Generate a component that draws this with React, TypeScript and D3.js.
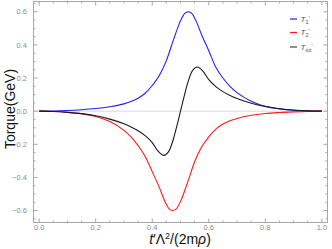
import * as d3 from "d3";

// T1' (blue)
const t1X = [0, 0.05, 0.1, 0.15, 0.2, 0.25, 0.3, 0.325, 0.35, 0.375, 0.4, 0.425, 0.45, 0.475, 0.5, 0.515, 0.528, 0.54, 0.555, 0.575, 0.6, 0.625, 0.65, 0.675, 0.7, 0.75, 0.8, 0.85, 0.9, 0.95, 1];
const t1Y = [0, 0.001, 0.004, 0.009, 0.016, 0.027, 0.044, 0.058, 0.078, 0.108, 0.155, 0.215, 0.305, 0.43, 0.545, 0.59, 0.6, 0.59, 0.545, 0.46, 0.365, 0.265, 0.2, 0.15, 0.112, 0.06, 0.029, 0.014, 0.006, 0.002, 0];

// T2' (red)
const t2X = [0, 0.05, 0.1, 0.15, 0.2, 0.25, 0.3, 0.325, 0.35, 0.375, 0.4, 0.425, 0.445, 0.46, 0.472, 0.485, 0.5, 0.525, 0.55, 0.575, 0.6, 0.625, 0.65, 0.675, 0.7, 0.75, 0.8, 0.85, 0.9, 0.95, 1];
const t2Y = [0, -0.002, -0.007, -0.016, -0.032, -0.063, -0.116, -0.155, -0.208, -0.273, -0.365, -0.46, -0.545, -0.59, -0.6, -0.59, -0.545, -0.43, -0.305, -0.215, -0.155, -0.108, -0.078, -0.058, -0.044, -0.025, -0.014, -0.008, -0.004, -0.001, 0];

// Ttot' (black)
const totX = [0, 0.05, 0.1, 0.15, 0.2, 0.25, 0.3, 0.325, 0.35, 0.375, 0.4, 0.42, 0.44, 0.46, 0.475, 0.49, 0.5, 0.51, 0.525, 0.54, 0.56, 0.58, 0.6, 0.625, 0.65, 0.675, 0.7, 0.75, 0.8, 0.85, 0.9, 0.95, 1];
const totY = [0, -0.002, -0.007, -0.015, -0.028, -0.048, -0.076, -0.095, -0.118, -0.148, -0.19, -0.24, -0.267, -0.238, -0.168, -0.07, 0, 0.07, 0.168, 0.238, 0.267, 0.24, 0.19, 0.148, 0.118, 0.095, 0.076, 0.048, 0.028, 0.015, 0.007, 0.002, 0];

const xMajor = [0, 0.2, 0.4, 0.6, 0.8, 1.0];
const yMajor = [-0.6, -0.4, -0.2, 0, 0.2, 0.4, 0.6];

const series = [
  { key: "1", xs: t1X, ys: t1Y, color: "#2020ff" },
  { key: "2", xs: t2X, ys: t2Y, color: "#ff1a1a" },
  { key: "tot", xs: totX, ys: totY, color: "#1a1a1a" },
];

const W = 332;
const H = 249;
const L = 33.5, R = 327.5, T = 1.5, B = 222.5;

export default function App() {
  const x = d3.scaleLinear().domain([-0.02, 1.02]).range([L, R]);
  const y = d3.scaleLinear().domain([-0.672, 0.662]).range([B, T]);

  const line = d3
    .line<[number, number]>()
    .x((d) => x(d[0]))
    .y((d) => y(d[1]))
    .curve(d3.curveMonotoneX);

  const xMinor = d3.range(0.05, 1.0, 0.05).filter((v) => !xMajor.some((m) => Math.abs(m - v) < 1e-6));
  const yMinor = d3.range(-0.65, 0.66, 0.05).filter((v) => !yMajor.some((m) => Math.abs(m - v) < 1e-6));

  const fmt = (v: number) => (v < 0 ? "\u2212" : "") + Math.abs(v).toFixed(1);
  const tickCol = "#a8a8a8";
  const font = "'Liberation Sans', Arial, sans-serif";

  return (
    <svg
      width={W}
      height={H}
      style={{ position: "absolute", left: 0, top: 0, background: "#fff", display: "block" }}
      fontFamily={font}
    >
      <defs>
        <clipPath id="plot">
          <rect x={L} y={T} width={R - L} height={B - T} />
        </clipPath>
      </defs>

      {/* zero axis */}
      <line x1={L} x2={R} y1={y(0)} y2={y(0)} stroke="#d9d9d9" strokeWidth={1} />

      {/* curves */}
      <g clipPath="url(#plot)">
        {series.map((s) => (
          <path
            key={s.key}
            d={line(s.xs.map((v, i) => [v, s.ys[i]] as [number, number])) ?? ""}
            fill="none"
            stroke={s.color}
            strokeWidth={1.1}
          />
        ))}
      </g>

      {/* frame */}
      <rect x={L} y={T} width={R - L} height={B - T} fill="none" stroke={tickCol} strokeWidth={1} />

      {/* x ticks bottom + top */}
      {xMajor.map((v) => (
        <g key={"xM" + v}>
          <line x1={x(v)} x2={x(v)} y1={B} y2={B - 4} stroke={tickCol} />
          <line x1={x(v)} x2={x(v)} y1={T} y2={T + 4} stroke={tickCol} />
          <text x={x(v)} y={229.5} fontSize={7.5} fill="#8c8c8c" textAnchor="middle">
            {fmt(v)}
          </text>
        </g>
      ))}
      {xMinor.map((v) => (
        <g key={"xm" + v}>
          <line x1={x(v)} x2={x(v)} y1={B} y2={B - 2} stroke={tickCol} />
          <line x1={x(v)} x2={x(v)} y1={T} y2={T + 2} stroke={tickCol} />
        </g>
      ))}

      {/* y ticks left + right */}
      {yMajor.map((v) => (
        <g key={"yM" + v}>
          <line x1={L} x2={L + 4} y1={y(v)} y2={y(v)} stroke={tickCol} />
          <line x1={R} x2={R - 4} y1={y(v)} y2={y(v)} stroke={tickCol} />
          <text x={27} y={y(v) + 2.6} fontSize={7.5} fill="#8c8c8c" textAnchor="end">
            {fmt(v)}
          </text>
        </g>
      ))}
      {yMinor.map((v) => (
        <g key={"ym" + v}>
          <line x1={L} x2={L + 2} y1={y(v)} y2={y(v)} stroke={tickCol} />
          <line x1={R} x2={R - 2} y1={y(v)} y2={y(v)} stroke={tickCol} />
        </g>
      ))}

      {/* axis titles */}
      <text
        transform={`translate(15,109) rotate(-90)`}
        textAnchor="middle"
        fontSize={14}
        fill="#111"
      >
        Torque(GeV)
      </text>
      <text x={180} y={243.5} textAnchor="middle" fontSize={14} fill="#111">
        <tspan fontStyle="italic">t</tspan>
        <tspan>′Λ</tspan>
        <tspan dy={-5} fontSize={9}>2</tspan>
        <tspan dy={5}>/(2m</tspan>
        <tspan fontStyle="italic">ρ</tspan>
        <tspan>)</tspan>
      </text>

      {/* legend */}
      {series.map((s, i) => {
        const ly = [19, 32.5, 47][i];
        return (
          <g key={"lg" + s.key}>
            <line x1={290} x2={297} y1={ly} y2={ly} stroke={s.key === "tot" ? "#444" : s.color} strokeWidth={1.2} />
            <text x={300.5} y={ly + 2.8} fontSize={8} fill="#555">
              <tspan fontStyle="italic">T</tspan>
              <tspan dy={1.8} fontSize={5.5}>{s.key}</tspan>
              <tspan dy={-4} fontSize={6}>′</tspan>
            </text>
          </g>
        );
      })}
    </svg>
  );
}
